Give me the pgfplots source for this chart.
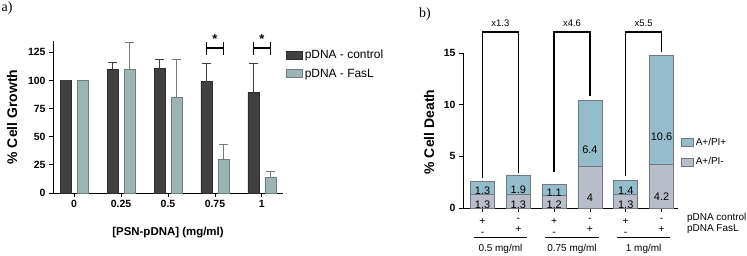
\documentclass[border=0pt]{standalone}
\usepackage{pgfplots}
\pgfplotsset{compat=1.18}
\usepackage{fontspec}
\setmainfont{Liberation Sans}
\newfontfamily\serifont{Liberation Serif}
\definecolor{darkbar}{HTML}{404040}
\definecolor{lightbar}{HTML}{9DB4B4}
\definecolor{lightedge}{HTML}{6F7F7F}
\definecolor{pipos}{HTML}{94BCCB}
\definecolor{pineg}{HTML}{B8BDC9}
\definecolor{bedge}{HTML}{707880}
\pgfplotstableread{
x v e
0 100 0
1 110 6
2 111 8
3 99 16
4 89 26
}\ctrl
\pgfplotstableread{
x v e
0 100 0
1 110 24
2 85 34
3 30 13
4 14 5.5
}\fasl
\pgfplotstableread{
x v
0 1.3
1 1.3
2 1.2
3 4
4 1.3
5 4.2
}\pineg
\pgfplotstableread{
x v
0 1.3
1 1.9
2 1.1
3 6.4
4 1.4
5 10.6
}\pipos
\begin{document}
\begin{tikzpicture}[x=1bp,y=1bp]
\useasboundingbox (0,0) rectangle (747,255);
\node[font=\serifont\fontsize{14}{14}\selectfont] at (7,247) {a)};
\node[font=\serifont\fontsize{14}{14}\selectfont] at (425,241) {b)};
\begin{axis}[
  at={(53bp,62bp)}, anchor=south west, scale only axis,
  width=230bp, height=152bp,
  xmin=-0.45, xmax=4.45, ymin=0, ymax=135,
  axis x line*=bottom, axis y line*=left,
  axis line style={line width=1bp, -},
  tick align=outside, major tick length=4bp,
  tick style={line width=0.8bp, black},
  xtick={0,...,4}, xticklabels={0,0.25,0.5,0.75,1},
  ytick={0,25,...,125},
  tick label style={font=\bfseries\fontsize{10.5}{12}\selectfont},
  /pgf/number format/assume math mode=true,
  xlabel={[PSN-pDNA] (mg/ml)},
  xlabel style={font=\bfseries\fontsize{11.5}{12}\selectfont, at={(axis description cs:0.5,-0.263)}, anchor=center},
  ylabel={\% Cell Growth},
  ylabel style={font=\bfseries\fontsize{14}{14}\selectfont, at={(axis description cs:-0.178,0.5)}, anchor=center},
  ybar, bar width=11bp,
  clip=false,
  legend style={at={(axis description cs:1.0,0.97)}, anchor=north west, draw=none, fill=none,
    font=\fontsize{12}{14}\selectfont, row sep=5bp},
  legend cell align=left,
  legend image code/.code={\draw[#1] (0bp,-4bp) rectangle (16bp,4bp);},
]
\addplot[ybar, bar shift=-8.5bp, fill=darkbar, draw=darkbar!70!black, line width=0.6bp,
  error bars/.cd, y dir=plus, y explicit,
  error bar style={line width=1bp, color=darkbar},
  error mark options={rotate=90, mark size=4.5bp, line width=1bp, color=darkbar}]
  table[x=x, y=v, y error=e] {\ctrl};
\addlegendentry{pDNA - control}
\addplot[ybar, bar shift=8.5bp, fill=lightbar, draw=lightedge, line width=0.6bp,
  error bars/.cd, y dir=plus, y explicit,
  error bar style={line width=1bp, color=lightedge},
  error mark options={rotate=90, mark size=4.5bp, line width=1bp, color=lightedge}]
  table[x=x, y=v, y error=e] {\fasl};
\addlegendentry{pDNA - FasL}
\draw[line width=1.2bp] (axis cs:2.82,122.6) -- (axis cs:2.82,134);
\draw[line width=1.2bp] (axis cs:3.18,122.6) -- (axis cs:3.18,134);
\draw[line width=1.2bp] (axis cs:2.82,128.8) -- (axis cs:3.18,128.8);
\node[font=\bfseries\fontsize{13}{13}\selectfont] at (axis cs:3.0,136.5) {*};
\draw[line width=1.2bp] (axis cs:3.82,122.6) -- (axis cs:3.82,134);
\draw[line width=1.2bp] (axis cs:4.18,122.6) -- (axis cs:4.18,134);
\draw[line width=1.2bp] (axis cs:3.82,128.8) -- (axis cs:4.18,128.8);
\node[font=\bfseries\fontsize{13}{13}\selectfont] at (axis cs:4.0,136.5) {*};
\end{axis}
\begin{axis}[
  at={(463bp,47bp)}, anchor=south west, scale only axis,
  width=215bp, height=155bp,
  xmin=-0.545, xmax=5.46, ymin=0, ymax=15,
  axis x line*=bottom, axis y line*=left,
  axis line style={line width=1bp, -},
  tick align=outside, major tick length=4bp,
  tick style={line width=0.8bp, black},
  xtick={0,...,5},
  xticklabels={{+\\-},{-\\+},{+\\-},{-\\+},{+\\-},{-\\+}},
  xticklabel style={align=center, font=\fontsize{10.5}{11}\selectfont, yshift=-3bp},
  ytick={0,5,10,15},
  yticklabel style={font=\bfseries\fontsize{10.5}{12}\selectfont},
  /pgf/number format/assume math mode=true,
  ylabel={\% Cell Death},
  ylabel style={font=\bfseries\fontsize{14}{14}\selectfont, at={(axis description cs:-0.158,0.49)}, anchor=center},
  ybar stacked, bar width=24bp,
  clip=false,
  legend style={at={(axis description cs:1.0,0.48)}, anchor=north west, draw=none, fill=none,
    font=\fontsize{10}{12}\selectfont, row sep=7bp},
  legend cell align=left,
  reverse legend,
  legend image code/.code={\draw[#1] (0bp,-4bp) rectangle (12bp,4bp);},
  nodes near coords,
  point meta=explicit symbolic,
  every node near coord/.append style={anchor=center, font=\fontsize{11}{12}\selectfont, black,
    inner sep=0pt, yshift=-\myv*2.5833bp},
]
\addplot[fill=pineg, draw=bedge, line width=0.6bp, visualization depends on={\thisrow{v}\as\myv}]
  table[x=x, y=v, meta=v] {\pineg};
\addlegendentry{A+/PI-}
\addplot[fill=pipos, draw=bedge, line width=0.6bp, visualization depends on={\thisrow{v}\as\myv}]
  table[x=x, y=v, meta=v] {\pipos};
\addlegendentry{A+/PI+}
% brackets
\draw[line width=1.4bp] (axis cs:0,2.9) |- (axis cs:1,17.05) -- (axis cs:1,3.4);
\draw[line width=1.4bp] (axis cs:2,3.5) |- (axis cs:3,17.05) -- (axis cs:3,10.8);
\draw[line width=1.4bp] (axis cs:4,3.05) |- (axis cs:5,17.05) -- (axis cs:5,15.1);
\node[font=\fontsize{9.5}{10}\selectfont, anchor=south] at (axis cs:0.5,17.2) {x1.3};
\node[font=\fontsize{9.5}{10}\selectfont, anchor=south] at (axis cs:2.5,17.2) {x4.6};
\node[font=\fontsize{9.5}{10}\selectfont, anchor=south] at (axis cs:4.5,17.2) {x5.5};
% group lines
\draw[line width=1.3bp] (axis cs:-0.25,-2.87) -- (axis cs:1.25,-2.87);
\draw[line width=1.3bp] (axis cs:1.75,-2.87) -- (axis cs:3.25,-2.87);
\draw[line width=1.3bp] (axis cs:3.75,-2.87) -- (axis cs:5.25,-2.87);
\node[font=\fontsize{10}{12}\selectfont] at (axis cs:0.5,-4.0) {0.5 mg/ml};
\node[font=\fontsize{10}{12}\selectfont] at (axis cs:2.5,-4.0) {0.75 mg/ml};
\node[font=\fontsize{10}{12}\selectfont] at (axis cs:4.5,-4.0) {1 mg/ml};
\node[font=\fontsize{10}{12}\selectfont, anchor=west, inner sep=0pt] at (axis cs:5.71,-0.97) {pDNA control};
\node[font=\fontsize{10}{12}\selectfont, anchor=west, inner sep=0pt] at (axis cs:5.71,-2.03) {pDNA FasL};
\end{axis}
\end{tikzpicture}
\end{document}
